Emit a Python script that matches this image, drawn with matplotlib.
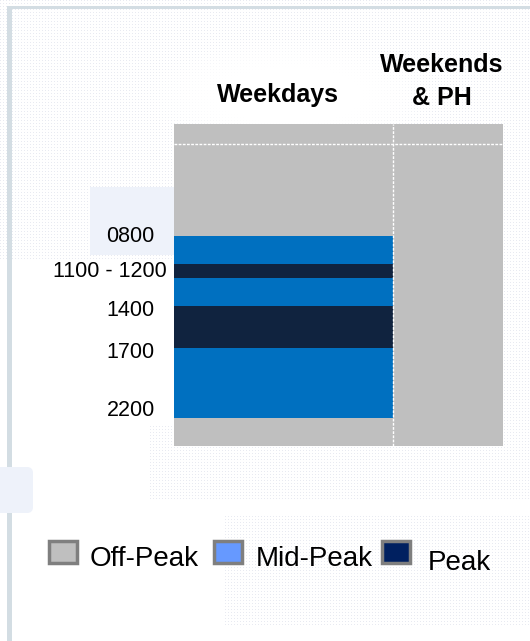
import matplotlib
import numpy as np

matplotlib.use("Agg")
import matplotlib.pyplot as plt  # noqa: E402
from matplotlib.patches import FancyBboxPatch, Rectangle  # noqa: E402
from matplotlib.transforms import blended_transform_factory, offset_copy  # noqa: E402

plt.rcParams["font.family"] = ["Liberation Sans", "DejaVu Sans"]

# --- data ---------------------------------------------------------------
DAY_TYPES = ["Weekdays", "Weekends\n& PH"]
WEEKDAY_START = [0, 8, 11, 12, 14, 17, 22]
WEEKDAY_END = [8, 11, 12, 14, 17, 22, 24]
WEEKDAY_TYPE = ["Off-Peak", "Mid-Peak", "Peak", "Mid-Peak", "Peak", "Mid-Peak", "Off-Peak"]
WEEKEND_START = [0]
WEEKEND_END = [24]
WEEKEND_TYPE = ["Off-Peak"]
TIME_LABELS = ["0800", "1100 - 1200", "1400", "1700", "2200"]
TIME_LABEL_HOURS = [8, 11.5, 14.3, 17.3, 21.5]
LEGEND_LABELS = ["Off-Peak", "Mid-Peak", "Peak"]

# --- styles -------------------------------------------------------------
BAR_COLORS = {"Off-Peak": "#bfbfbf", "Mid-Peak": "#0070c0", "Peak": "#10233f"}
LEGEND_COLORS = {"Off-Peak": "#bfbfbf", "Mid-Peak": "#6699ff", "Peak": "#002060"}
COL_WIDTHS = [2, 1]
HEADER_HOURS = 1.5
# the drawn timeline is not linear in hours: hour -> pixel offset knots
HOUR_KNOTS = [-HEADER_HOURS, 0, 8, 11, 24]
POS_KNOTS = [-20, 0, 92, 120, 302]
W, H = 530, 641


def fwd(h):
    return np.interp(h, HOUR_KNOTS, POS_KNOTS)


def inv(p):
    return np.interp(p, POS_KNOTS, HOUR_KNOTS)


fig = plt.figure(figsize=(W / 100, H / 100), dpi=100)

# background decoration in pixel coordinates
bg = fig.add_axes([0, 0, 1, 1])
bg.set_xlim(0, W)
bg.set_ylim(H, 0)
bg.axis("off")

yy, xx = np.mgrid[0:H, 0:W]
dots = ((xx % 3 == 0) & (yy % 3 == 0)).astype(float)
mask = np.zeros((H, W))
for x0, y0, x1, y1 in [(0, 0, 530, 135), (0, 135, 175, 260), (500, 130, 530, 450),
                       (150, 425, 530, 500), (225, 515, 530, 625)]:
    mask[(xx >= x0) & (xx < x1) & (yy >= y0) & (yy < y1)] = 1.0
# soft white blob behind the titles
blob = ((xx - 290) / 130.0) ** 2 + ((yy - 95) / 50.0) ** 2
mask *= np.clip(blob - 0.3, 0, 1)
tex = np.zeros((H, W, 4))
tex[..., 0], tex[..., 1], tex[..., 2] = 0.80, 0.82, 0.88
tex[..., 3] = dots * mask * 0.45
bg.imshow(tex, extent=(0, W, H, 0), interpolation="nearest", zorder=0)

bg.add_patch(Rectangle((7, 6), 5, H, color="#d3dde3", lw=0, zorder=1))
bg.add_patch(Rectangle((7, 6), W, 3, color="#d3dde3", lw=0, zorder=1))
bg.add_patch(Rectangle((90, 187), 84, 68, color="#eef2fa", lw=0, zorder=1))
bg.add_patch(FancyBboxPatch((-10, 467), 43, 46, boxstyle="round,pad=0,rounding_size=6",
                            color="#eef2fa", lw=0, zorder=1))

# legend
legend_box_x = [49, 214, 382]
legend_text_x = [90, 256, 428]
legend_base_y = [566, 566, 570]
for lab, bx, tx, ty in zip(LEGEND_LABELS, legend_box_x, legend_text_x, legend_base_y):
    bg.add_patch(Rectangle((bx, 541), 28, 22, facecolor=LEGEND_COLORS[lab],
                           edgecolor="#7f7f7f", lw=2.5, zorder=3))
    bg.text(tx, ty, lab, fontsize=20, va="baseline", ha="left", color="black", zorder=3)

# main schedule axes
left, right, top, bottom = 174, 503, 124, 446
ax = fig.add_axes([left / W, 1 - bottom / H, (right - left) / W, (bottom - top) / H])
ax.set_yscale("function", functions=(fwd, inv))
ax.set_ylim(24, -HEADER_HOURS)
ax.set_xlim(0, sum(COL_WIDTHS))
ax.patch.set_alpha(0)

col_left = np.cumsum([0] + COL_WIDTHS[:-1])
# header row
ax.bar(col_left, [HEADER_HOURS] * 2, width=COL_WIDTHS, bottom=-HEADER_HOURS,
       align="edge", color=BAR_COLORS["Off-Peak"], lw=0)
for x0, wd, starts, ends, kinds in [
    (col_left[0], COL_WIDTHS[0], WEEKDAY_START, WEEKDAY_END, WEEKDAY_TYPE),
    (col_left[1], COL_WIDTHS[1], WEEKEND_START, WEEKEND_END, WEEKEND_TYPE),
]:
    heights = np.array(ends) - np.array(starts)
    ax.bar([x0] * len(starts), heights, width=wd, bottom=starts, align="edge",
           color=[BAR_COLORS[k] for k in kinds], lw=0)

ax.axhline(0, color="white", lw=1, ls=(0, (2, 1)))
ax.axvline(col_left[1], color="white", lw=1, ls=(0, (2, 1)))

for s in ax.spines.values():
    s.set_visible(False)
ax.set_xticks([])
ax.set_yticks([])

# column titles
tb = blended_transform_factory(ax.transData, fig.transFigure)
title_y = [[1 - 102 / H], [1 - 72 / H, 1 - 105 / H]]
title_x = [col_left[0] + COL_WIDTHS[0] / 2 - 0.05, col_left[1] + COL_WIDTHS[1] / 2 - 0.06]
for name, tx, tys in zip(DAY_TYPES, title_x, title_y):
    for line, ty in zip(name.split("\n"), tys):
        ax.text(tx, ty, line, transform=tb, ha="center", va="baseline",
                fontsize=18, fontweight="bold", color="black")

# time labels
label_pad = [20, 7, 19, 19, 19]
lt = blended_transform_factory(ax.transAxes, ax.transData)
for lab, hr, pad in zip(TIME_LABELS, TIME_LABEL_HOURS, label_pad):
    tr = offset_copy(lt, fig=fig, x=-pad, y=0, units="dots")
    ax.text(0, hr, lab, transform=tr, ha="right", va="center", fontsize=15.5, color="black")

fig.savefig("out.png", dpi=100)
